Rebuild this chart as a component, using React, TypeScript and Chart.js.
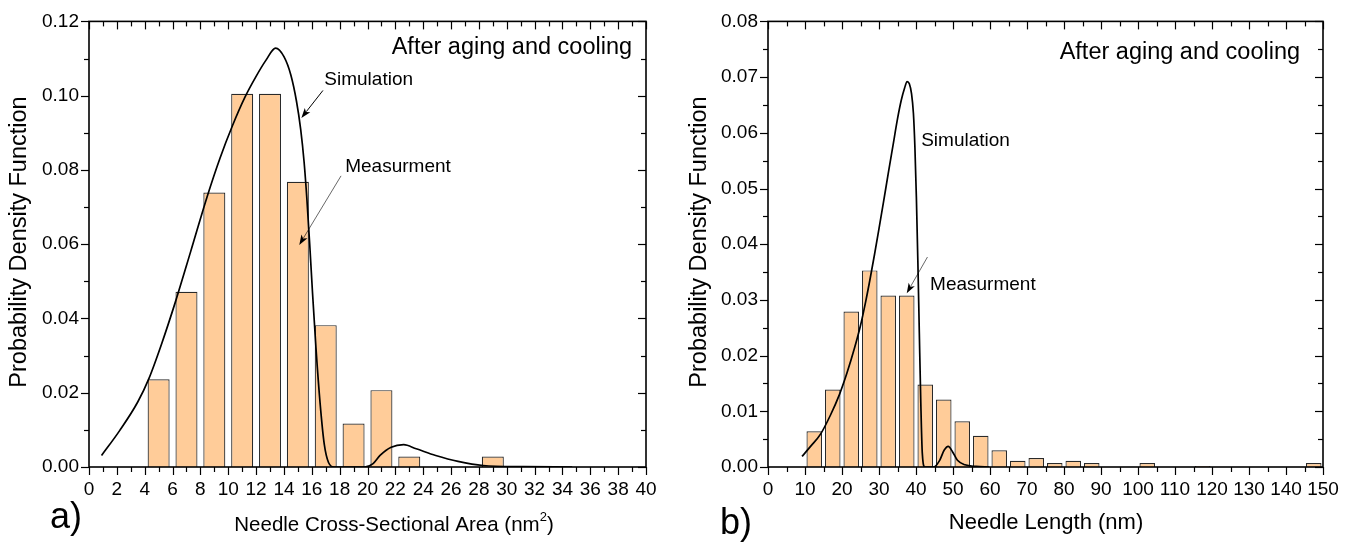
import React, { useEffect, useRef } from 'react';
import { Chart, registerables } from 'chart.js';

Chart.register(...registerables);

const FONT = '"Liberation Sans", Arial, Helvetica, sans-serif';

// ---------- Panel a) : needle cross-sectional area ----------
const areaBinCenters = [5, 7, 9, 11, 13, 15, 17, 19, 21, 23, 29];
const areaMeasured = [0.0236, 0.0472, 0.0739, 0.1005, 0.1005, 0.0768, 0.0382, 0.0117, 0.0207, 0.0028, 0.0028];
const areaSimX = [0.9, 2.2, 3.5, 4.3, 5.2, 6.2, 7.3, 8.5, 9.4, 10.3, 11.2, 12.0, 12.7, 13.4, 14.0, 14.5, 14.9, 15.2, 15.45, 15.65, 15.85, 16.05, 16.3, 16.6, 16.9, 17.2, 17.6, 18.5, 19.8, 20.4, 20.9, 21.7, 22.6, 23.5, 24.9, 26.5, 28.3, 31.2, 34.7];
const areaSimY = [0.0031, 0.0098, 0.0175, 0.0238, 0.033, 0.0444, 0.058, 0.073, 0.0831, 0.0919, 0.0996, 0.1052, 0.1095, 0.1128, 0.1105, 0.1055, 0.0985, 0.091, 0.082, 0.072, 0.06, 0.047, 0.032, 0.017, 0.006, 0.0012, 0, 0, 0, 0.0009, 0.0031, 0.0053, 0.006, 0.0049, 0.0031, 0.0015, 0.0004, 0.0001, 0];

// ---------- Panel b) : needle length ----------
const lengthBinCenters = [12.5, 17.5, 22.5, 27.5, 32.5, 37.5, 42.5, 47.5, 52.5, 57.5, 62.5, 67.5, 72.5, 77.5, 82.5, 87.5, 102.5, 117.5, 147.5];
const lengthMeasured = [0.0064, 0.0139, 0.0279, 0.0353, 0.0308, 0.0308, 0.0148, 0.0121, 0.0082, 0.0056, 0.003, 0.0011, 0.0016, 0.0007, 0.0011, 0.0007, 0.0007, 0.0002, 0.0007];
const lengthSimX = [9.2, 11.5, 14.2, 16.8, 19.3, 21.4, 23.4, 25.0, 26.4, 27.6, 28.8, 30.0, 31.2, 32.5, 33.8, 35.0, 36.0, 36.9, 37.6, 38.2, 38.8, 39.3, 39.7, 40.1, 40.5, 40.9, 41.3, 41.7, 42.4, 44.8, 46.4, 47.6, 48.7, 49.9, 51.2, 53.2, 56.2, 59.8];
const lengthSimY = [0.0019, 0.0037, 0.0059, 0.0092, 0.013, 0.017, 0.0214, 0.0254, 0.0297, 0.0338, 0.0382, 0.0428, 0.0475, 0.0527, 0.0578, 0.0625, 0.0658, 0.068, 0.0692, 0.0688, 0.067, 0.0635, 0.0575, 0.0485, 0.037, 0.024, 0.0115, 0.0025, 0, 0, 0.0012, 0.003, 0.0037, 0.0027, 0.0012, 0.0004, 0.0001, 0];

// axis ranges & tick steps
const areaXTicks = { min: 0, max: 40, major: 2, minor: 1 };
const areaYTicks = { min: 0, max: 0.12, major: 0.02, minor: 0.01 };
const lengthXTicks = { min: 0, max: 150, major: 10, minor: 5 };
const lengthYTicks = { min: 0, max: 0.08, major: 0.01, minor: 0.005 };

const yTitle = 'Probability Density Function';
const simLabel = 'Simulation';
const measLabel = 'Measurment';
const cornerLabel = 'After aging and cooling';

const W = 676;
const H = 544;

type TextA = { text: string; x: number; y: number; align: CanvasTextAlign; size: number };
type ArrowA = { from: [number, number]; to: [number, number]; w: number };
type PanelCfg = {
  binX: number[];
  binY: number[];
  simX: number[];
  simY: number[];
  xt: { min: number; max: number; major: number; minor: number };
  yt: { min: number; max: number; major: number; minor: number };
  yDecimals: number;
  barFrac: number;
  yWidth: number;
  padRight: number;
  texts: TextA[];
  arrows: ArrowA[];
  xTitle: string;
  xTitleSup?: string;
  xTitleEnd?: string;
  xTitleSize: number;
  xTitlePos: [number, number];
  yTitlePos: [number, number];
  tag: string;
  tagPos: [number, number];
};

const panelA: PanelCfg = {
  binX: areaBinCenters,
  binY: areaMeasured,
  simX: areaSimX,
  simY: areaSimY,
  xt: areaXTicks,
  yt: areaYTicks,
  yDecimals: 2,
  barFrac: 0.79,
  yWidth: 89,
  padRight: W - 646,
  texts: [
    { text: cornerLabel, x: 39, y: 0.113, align: 'right', size: 23.5 },
    { text: simLabel, x: 16.9, y: 0.1043, align: 'left', size: 19 },
    { text: measLabel, x: 18.4, y: 0.0808, align: 'left', size: 19 },
  ],
  arrows: [
    { from: [16.8, 0.1014], to: [15.25, 0.094], w: 1 },
    { from: [18.1, 0.0784], to: [15.1, 0.0598], w: 0.6 },
  ],
  xTitle: 'Needle Cross-Sectional Area (nm',
  xTitleSup: '2',
  xTitleEnd: ')',
  xTitleSize: 20.5,
  xTitlePos: [394, 525],
  yTitlePos: [20, 242],
  tag: 'a)',
  tagPos: [66, 518],
};

const panelB: PanelCfg = {
  binX: lengthBinCenters,
  binY: lengthMeasured,
  simX: lengthSimX,
  simY: lengthSimY,
  xt: lengthXTicks,
  yt: lengthYTicks,
  yDecimals: 2,
  barFrac: 0.84,
  yWidth: 92,
  padRight: W - 647,
  texts: [
    { text: cornerLabel, x: 143.8, y: 0.0745, align: 'right', size: 23.5 },
    { text: simLabel, x: 41.4, y: 0.0585, align: 'left', size: 19 },
    { text: measLabel, x: 43.8, y: 0.0328, align: 'left', size: 19 },
  ],
  arrows: [{ from: [43.1, 0.0377], to: [37.5, 0.0312], w: 0.6 }],
  xTitle: 'Needle Length (nm)',
  xTitleSize: 22,
  xTitlePos: [370, 523],
  yTitlePos: [24, 242],
  tag: 'b)',
  tagPos: [60, 524],
};

function isMultiple(v: number, step: number) {
  const r = v / step;
  return Math.abs(r - Math.round(r)) < 1e-6;
}

function makePlugins(p: PanelCfg) {
  const frame = {
    id: 'frameTicks',
    afterDatasetsDraw(chart: any) {
      const { ctx, chartArea: a, scales } = chart;
      const xs = scales.x;
      const ys = scales.y;
      ctx.save();
      ctx.strokeStyle = '#000';
      ctx.lineWidth = 1.2;
      const line = (x1: number, y1: number, x2: number, y2: number) => {
        ctx.beginPath();
        ctx.moveTo(x1, y1);
        ctx.lineTo(x2, y2);
        ctx.stroke();
      };
      const nx = Math.round((p.xt.max - p.xt.min) / p.xt.minor);
      for (let i = 0; i <= nx; i++) {
        const v = p.xt.min + i * p.xt.minor;
        const px = Math.round(xs.getPixelForValue(v)) + 0.5;
        const L = isMultiple(v, p.xt.major) ? 8 : 5;
        line(px, a.bottom, px, a.bottom + L);
        line(px, a.top, px, a.top + L);
      }
      const ny = Math.round((p.yt.max - p.yt.min) / p.yt.minor);
      for (let i = 0; i <= ny; i++) {
        const v = p.yt.min + i * p.yt.minor;
        const py = Math.round(ys.getPixelForValue(v)) + 0.5;
        const L = isMultiple(v, p.yt.major) ? 8 : 5;
        line(a.left - L, py, a.left, py);
        line(a.right - L, py, a.right, py);
      }
      ctx.lineWidth = 1.6;
      ctx.strokeRect(a.left, a.top, a.right - a.left, a.bottom - a.top);
      ctx.restore();
    },
  };

  const annot = {
    id: 'annot',
    afterDraw(chart: any) {
      const { ctx, scales } = chart;
      const xs = scales.x;
      const ys = scales.y;
      ctx.save();
      ctx.fillStyle = '#000';
      ctx.strokeStyle = '#000';
      ctx.textBaseline = 'middle';
      for (const t of p.texts) {
        ctx.font = `${t.size}px ${FONT}`;
        ctx.textAlign = t.align;
        ctx.fillText(t.text, xs.getPixelForValue(t.x), ys.getPixelForValue(t.y));
      }
      for (const ar of p.arrows) {
        const x1 = xs.getPixelForValue(ar.from[0]);
        const y1 = ys.getPixelForValue(ar.from[1]);
        const x2 = xs.getPixelForValue(ar.to[0]);
        const y2 = ys.getPixelForValue(ar.to[1]);
        const ang = Math.atan2(y2 - y1, x2 - x1);
        const hl = 10;
        const hw = 3.5;
        ctx.lineWidth = ar.w;
        ctx.beginPath();
        ctx.moveTo(x1, y1);
        ctx.lineTo(x2 - Math.cos(ang) * hl * 0.8, y2 - Math.sin(ang) * hl * 0.8);
        ctx.stroke();
        ctx.beginPath();
        ctx.moveTo(x2, y2);
        ctx.lineTo(x2 - Math.cos(ang) * hl - Math.sin(ang) * hw, y2 - Math.sin(ang) * hl + Math.cos(ang) * hw);
        ctx.lineTo(x2 - Math.cos(ang) * hl * 0.75, y2 - Math.sin(ang) * hl * 0.75);
        ctx.lineTo(x2 - Math.cos(ang) * hl + Math.sin(ang) * hw, y2 - Math.sin(ang) * hl - Math.cos(ang) * hw);
        ctx.closePath();
        ctx.fill();
      }
      // y axis title
      ctx.save();
      ctx.translate(p.yTitlePos[0], p.yTitlePos[1]);
      ctx.rotate(-Math.PI / 2);
      ctx.textAlign = 'center';
      ctx.font = `23.5px ${FONT}`;
      ctx.fillText(yTitle, 0, 0);
      ctx.restore();
      // x axis title (with optional superscript)
      const mainFont = `${p.xTitleSize}px ${FONT}`;
      const supFont = `${Math.round(p.xTitleSize * 0.65)}px ${FONT}`;
      ctx.textAlign = 'left';
      ctx.font = mainFont;
      const w1 = ctx.measureText(p.xTitle).width;
      let w2 = 0;
      let w3 = 0;
      if (p.xTitleSup) {
        ctx.font = supFont;
        w2 = ctx.measureText(p.xTitleSup).width;
        ctx.font = mainFont;
        w3 = ctx.measureText(p.xTitleEnd || '').width;
      }
      let tx = p.xTitlePos[0] - (w1 + w2 + w3) / 2;
      const ty = p.xTitlePos[1];
      ctx.font = mainFont;
      ctx.fillText(p.xTitle, tx, ty);
      tx += w1;
      if (p.xTitleSup) {
        ctx.font = supFont;
        ctx.fillText(p.xTitleSup, tx, ty - 8);
        tx += w2;
        ctx.font = mainFont;
        ctx.fillText(p.xTitleEnd || '', tx, ty);
      }
      // panel tag
      ctx.font = `36px ${FONT}`;
      ctx.textAlign = 'center';
      ctx.fillText(p.tag, p.tagPos[0], p.tagPos[1]);
      ctx.restore();
    },
  };
  return [frame, annot];
}

function buildConfig(p: PanelCfg): any {
  const tickFont = { family: FONT, size: 19 };
  return {
    type: 'bar',
    data: {
      datasets: [
        {
          type: 'line',
          label: simLabel,
          data: p.simX.map((x, i) => ({ x, y: p.simY[i] })),
          borderColor: '#000',
          borderWidth: 1.7,
          pointRadius: 0,
          fill: false,
          cubicInterpolationMode: 'monotone',
          order: 0,
        },
        {
          type: 'bar',
          label: measLabel,
          data: p.binX.map((x, i) => ({ x, y: p.binY[i] })),
          backgroundColor: '#FFCC99',
          borderColor: '#2a2a2a',
          borderWidth: 1.2,
          barPercentage: p.barFrac,
          categoryPercentage: 1,
          order: 1,
        },
      ],
    },
    options: {
      responsive: false,
      maintainAspectRatio: false,
      animation: false,
      events: [],
      layout: { padding: { left: 0, right: p.padRight, top: 17, bottom: 0 } },
      plugins: { legend: { display: false }, tooltip: { enabled: false } },
      scales: {
        x: {
          type: 'linear',
          min: p.xt.min,
          max: p.xt.max,
          offset: false,
          afterFit: (s: any) => {
            s.height = 77;
          },
          grid: { display: false, drawTicks: false },
          border: { display: false },
          ticks: {
            stepSize: p.xt.major,
            autoSkip: false,
            maxRotation: 0,
            minRotation: 0,
            padding: 11,
            color: '#000',
            font: tickFont,
            callback: (v: any) => String(v),
          },
        },
        y: {
          type: 'linear',
          min: p.yt.min,
          max: p.yt.max,
          afterFit: (s: any) => {
            s.width = p.yWidth;
          },
          grid: { display: false, drawTicks: false },
          border: { display: false },
          ticks: {
            stepSize: p.yt.major,
            padding: 10,
            color: '#000',
            font: tickFont,
            callback: (v: any) => Number(v).toFixed(p.yDecimals),
          },
        },
      },
    },
    plugins: makePlugins(p),
  };
}

function Panel({ cfg, left }: { cfg: PanelCfg; left: number }) {
  const ref = useRef<HTMLCanvasElement>(null);
  useEffect(() => {
    if (!ref.current) return;
    const chart = new Chart(ref.current, buildConfig(cfg));
    return () => chart.destroy();
  }, [cfg]);
  return (
    <canvas
      ref={ref}
      width={W}
      height={H}
      style={{ position: 'absolute', left, top: 0, width: W, height: H, display: 'block' }}
    />
  );
}

export default function App() {
  return (
    <div style={{ position: 'fixed', left: 0, top: 0, width: 1352, height: 544, background: '#fff', overflow: 'hidden' }}>
      <Panel cfg={panelA} left={0} />
      <Panel cfg={panelB} left={676} />
    </div>
  );
}
